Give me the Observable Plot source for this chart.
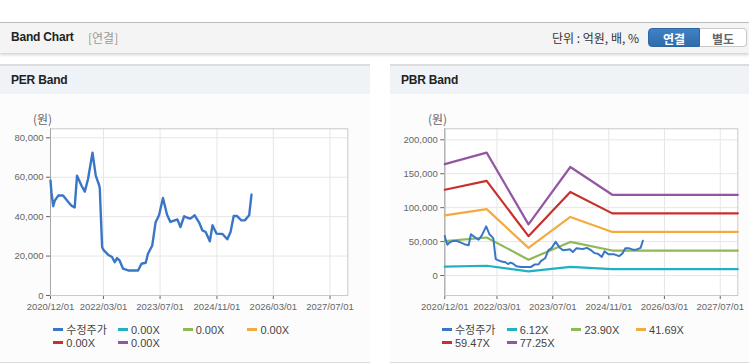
<!DOCTYPE html>
<html><head><meta charset="utf-8">
<script src="https://cdn.jsdelivr.net/npm/d3@7"></script>
<script src="https://cdn.jsdelivr.net/npm/@observablehq/plot@0.6"></script>
<style>
body{margin:0;width:749px;height:364px;position:relative;overflow:hidden;background:#fff;font-family:"Liberation Sans",Arial,"Noto Sans CJK KR",sans-serif;}
.a{position:absolute;}
.topbar{left:0;top:22px;width:749px;height:30px;background:#f4f4f4;border-top:1px solid #bdbdbd;box-shadow:0 2px 3px rgba(0,0,0,0.18);}
.ttl{font-weight:bold;font-size:12px;color:#222;letter-spacing:-0.2px;}
.panelhead{top:64px;height:28px;background:#eff2f7;border-top:2px solid #dcdcdc;}
.panelbody{top:94px;height:268px;background:#fcfcfc;border-bottom:1px solid #d9d9d9;}
.unit{font-size:12px;color:#333;font-family:"Noto Sans CJK KR",sans-serif;}
.btn{top:28px;height:19px;font-size:12px;font-weight:bold;text-align:center;line-height:19px;font-family:"Noto Sans CJK KR",sans-serif;}
.leg{font-size:11px;color:#444;height:13px;line-height:13px;white-space:nowrap;}
.sw{display:inline-block;width:10px;height:3px;vertical-align:middle;margin-right:3px;position:relative;top:-1px;}
.won{font-size:12px;color:#666;font-family:"Noto Sans CJK KR",sans-serif;}
</style></head><body>
<script>
// ---- data ----
const priceDates = ["2020-12-01","2020-12-09","2020-12-24","2021-01-07","2021-02-06","2021-03-19","2021-05-01","2021-05-29","2021-06-27","2021-07-17","2021-08-24","2021-09-22","2021-10-20","2021-11-27","2021-12-25","2022-01-24","2022-01-29","2022-02-04","2022-02-18","2022-03-03","2022-04-10","2022-05-14","2022-06-06","2022-06-26","2022-07-18","2022-08-17","2022-09-29","2022-12-24","2023-01-22","2023-02-28","2023-03-19","2023-04-25","2023-05-23","2023-06-22","2023-07-26","2023-08-30","2023-09-28","2023-11-04","2023-11-27","2023-12-23","2024-01-24","2024-02-28","2024-03-18","2024-04-24","2024-06-01","2024-06-29","2024-07-27","2024-09-01","2024-09-24","2024-10-28","2024-12-19","2025-01-29","2025-02-26","2025-03-25","2025-04-23","2025-05-30","2025-06-28","2025-08-05","2025-08-25"];
const priceValues = [58300,52400,45300,48100,50700,50700,47600,45600,44700,60800,55800,52700,59200,72400,60800,55800,54100,44800,24500,23000,20700,19500,16900,19000,17800,13600,12700,12700,16100,16600,21200,25400,37000,40700,49500,41000,37300,38100,38600,34700,40200,39300,39000,40700,37000,33000,32200,27500,35600,31400,31200,28500,32200,40300,40300,38100,38100,40700,51200];
const bandDates = ["2020-12-01","2021-12-01","2022-12-01","2023-12-01","2024-12-01","2027-12-01"];
const band612  = [13005,14351,5967,12668,9425,9425];
const band2390 = [50788,56046,23303,49473,36806,36806];
const band4169 = [88591,97763,40648,86298,64203,64203];
const band5947 = [126374,139457,57983,123103,91584,91584];
const band7725 = [164156,181151,75319,159908,118965,118965];
const xTickDates = ["2020-12-01","2022-03-01","2023-07-01","2024-11-01","2026-03-01","2027-07-01"];
const xDomainDates = ["2020-12-01","2027-12-01"];
const perTicks = [0,20000,40000,60000,80000];
const pbrTicks = [0,50000,100000,150000,200000];
const perLegend = ["수정주가","0.00X","0.00X","0.00X","0.00X","0.00X"];
const pbrLegend = ["수정주가","6.12X","23.90X","41.69X","59.47X","77.25X"];
const seriesColors = ["#3a76c6","#20b1c2","#8fb955","#f2ab3e","#c9302c","#9256a2"];

// ---- layout ----
function div(cls, style, html){const d=document.createElement("div");d.className="a "+cls;Object.assign(d.style,style);if(html!=null)d.innerHTML=html;document.body.appendChild(d);return d;}
div("topbar",{});
div("ttl",{left:"11px",top:"30px"},"Band Chart");
div("",{left:"88px",top:"30px",fontSize:"12px",color:"#999",fontFamily:"'Noto Sans CJK KR',sans-serif",lineHeight:"16px"},"[연결]");
div("unit",{left:"552px",top:"30px",lineHeight:"16px"},"단위 : 억원, 배, %");
div("btn",{left:"648px",width:"52px",background:"linear-gradient(#3f82c4,#2f6cab)",color:"#fff",borderRadius:"4px 0 0 4px",border:"1px solid #2d66a3",boxSizing:"border-box"},"연결");
div("btn",{left:"700px",width:"47px",background:"#fff",color:"#666",borderRadius:"0 4px 4px 0",border:"1px solid #c8c8c8",borderLeft:"none",boxSizing:"border-box"},"별도");

div("panelbody",{left:"0px",width:"370px"});
div("panelbody",{left:"390px",width:"359px"});
div("panelhead",{left:"0px",width:"370px"});
div("panelhead",{left:"390px",width:"359px"});
div("ttl",{left:"11px",top:"73px"},"PER Band");
div("ttl",{left:"401px",top:"73px"},"PBR Band");
div("won",{left:"33px",top:"110px"},"(원)");
div("won",{left:"428px",top:"110px"},"(원)");

const xDomain = xDomainDates.map(d=>new Date(d));
const xTicks = xTickDates.map(d=>new Date(d));
const price = priceDates.map((d,i)=>({date:new Date(d), value:priceValues[i]}));
const bandSeries = [band612,band2390,band4169,band5947,band7725];
const bands = bandSeries.flatMap((arr,k)=>arr.map((v,i)=>({date:new Date(bandDates[i]), value:v, k:k+1})));
const fmtDate = d3.utcFormat("%Y/%m/%d");
const fmtNum = d3.format(",");

function chart(opts){
  const p = Plot.plot({
    width:opts.width, height:220,
    marginLeft:opts.ml, marginRight:opts.mr, marginTop:28.3, marginBottom:25,
    style:{background:"transparent",color:"#666",fontSize:"9.5px",fontFamily:"'Liberation Sans',Arial,sans-serif",overflow:"visible"},
    x:{type:"utc",domain:xDomain,ticks:xTicks,tickFormat:fmtDate,tickSize:4,tickPadding:4,label:null},
    y:{domain:opts.ydomain,ticks:opts.yticks,tickFormat:fmtNum,tickSize:4,tickPadding:3,label:null},
    marks:[
      Plot.frame({fill:"#fff",stroke:null}),
      Plot.ruleX(xTicks,{stroke:"#e6e6e6",strokeWidth:1}),
      Plot.ruleY(opts.yticks,{stroke:"#e6e6e6",strokeWidth:1}),
      Plot.frame({stroke:"#c9c9c9"}),
      Plot.ruleX([xDomain[0]],{stroke:"#a8a8a8"}),
      ...(opts.bands ? [Plot.line(bands,{x:"date",y:"value",z:"k",stroke:d=>seriesColors[d.k],strokeWidth:2.2})] : []),
      Plot.line(price,{x:"date",y:"value",stroke:seriesColors[0],strokeWidth:opts.pw})
    ]
  });
  p.style.position="absolute"; p.style.left=opts.left+"px"; p.style.top="100px";
  document.body.appendChild(p);
}
chart({width:370,ml:50,mr:22.7,left:0,ydomain:[0,84565],yticks:perTicks,bands:false,pw:2.4});
chart({width:359,ml:54.3,mr:11.7,left:390,ydomain:[-29470,216200],yticks:pbrTicks,bands:true,pw:2});

function legend(x0, labels){
  labels.forEach((t,i)=>{
    const col=i%4,row=Math.floor(i/4);
    div("leg",{left:(x0+col*64.7)+"px",top:(323.5+row*13.3)+"px"},
      `<span class="sw" style="background:${seriesColors[i]}"></span>${t}`);
  });
}
legend(53.3, perLegend);
legend(442, pbrLegend);
</script>
</body></html>
